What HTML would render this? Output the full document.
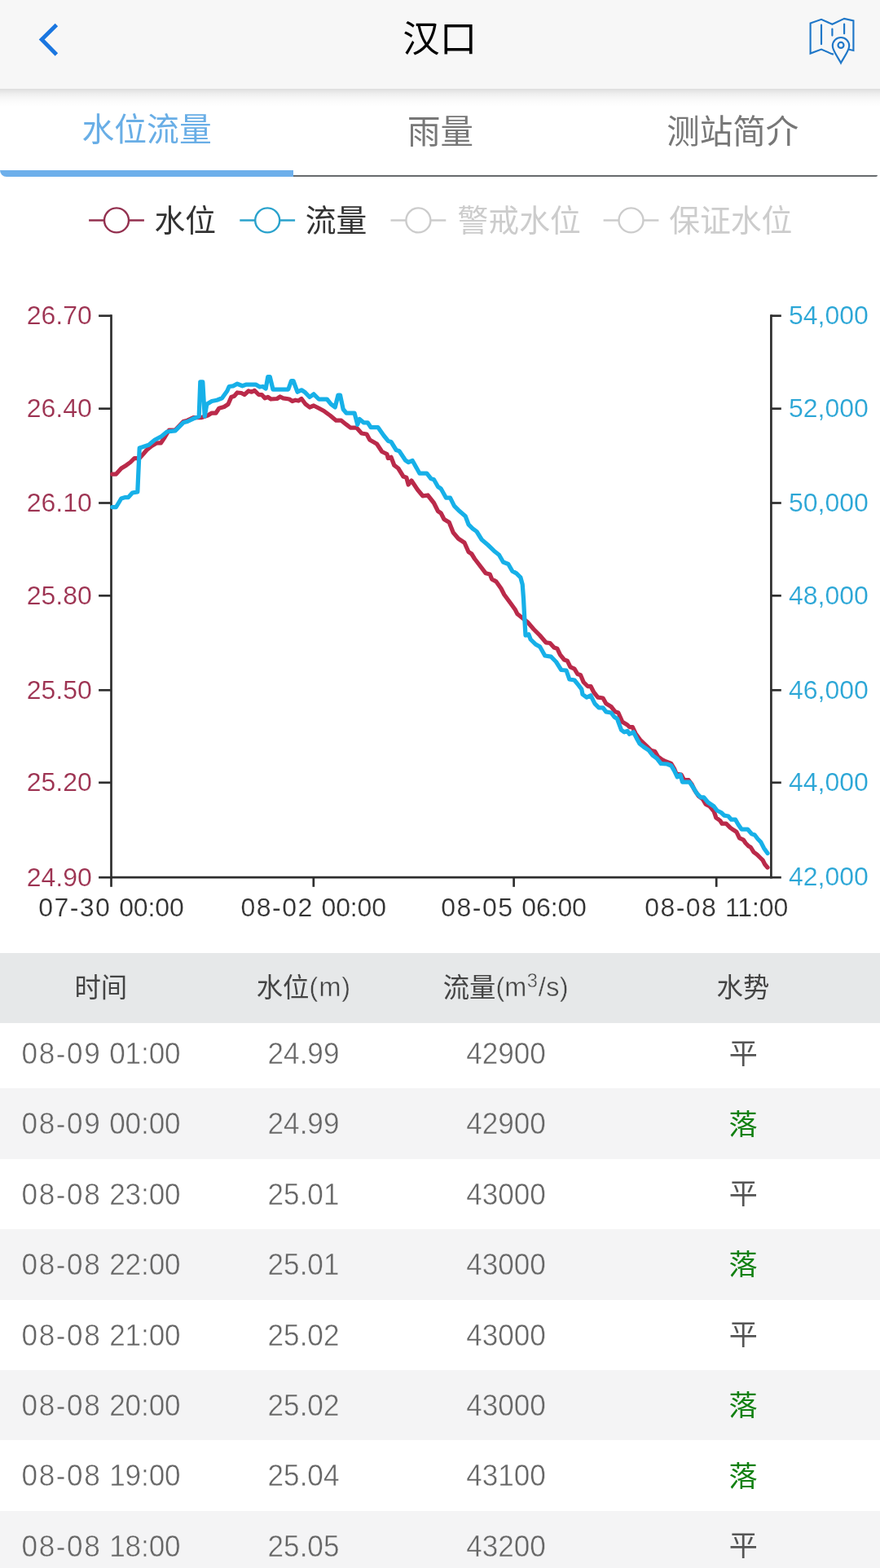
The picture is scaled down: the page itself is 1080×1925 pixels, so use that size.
<!DOCTYPE html>
<html lang="zh"><head><meta charset="utf-8"><title>汉口</title>
<style>
html,body{margin:0;padding:0}
body{width:1080px;height:1925px;position:relative;overflow:hidden;background:#fff;font-family:"Liberation Sans",sans-serif}
#hdr{position:absolute;left:0;top:0;width:1080px;height:108.8px;background:#f7f7f7}
#shd{position:absolute;left:0;top:108.8px;width:1080px;height:22px;background:linear-gradient(rgba(0,0,0,.135),rgba(0,0,0,.10) 12%,rgba(0,0,0,.065) 28%,rgba(0,0,0,.035) 48%,rgba(0,0,0,.014) 70%,rgba(0,0,0,0))}
#tabbar{position:absolute;left:0;top:209.1px;width:360px;height:7.7px;background:#6dafeb;border-radius:0 0 0 8px}
#tabline{position:absolute;left:360px;top:215.05px;width:717px;height:1.75px;background:#666a6d;border-radius:0 0 2px 0}
#thead{position:absolute;left:0;top:1169.6px;width:1080px;height:86.4px;background:#e6e8e9}
.row{position:absolute;left:0;width:1080px;height:86.4px;font-size:35.1px;line-height:86.4px;color:#666;white-space:nowrap}
.row span{position:absolute;top:0;height:86.4px;text-align:center;transform:scaleY(1.045)}
.c1{left:0;width:248px;word-spacing:.2px}
.c1 i{font-style:normal;letter-spacing:1.6px}.c1 b{font-weight:normal;letter-spacing:-.12px}
.c2{left:248px;width:249px}
.c3{left:497px;width:248px}
#ov{position:absolute;left:0;top:0;will-change:transform}
.row span{will-change:transform}
#ov .cjk{font-family:"Liberation Sans","Noto Sans CJK SC",sans-serif}
</style></head><body>
<div id="hdr"></div><div id="shd"></div>
<div id="tabbar"></div><div id="tabline"></div>
<div class="row" style="top:1250.0px;background:#fff;-webkit-text-stroke:.45px #fff"><span class="c1"><i>08-09</i> <b>01:00</b></span><span class="c2">24.99</span><span class="c3">42900</span></div>
<div class="row" style="top:1336.4px;background:#f4f4f5;-webkit-text-stroke:.45px #f4f4f5"><span class="c1"><i>08-09</i> <b>00:00</b></span><span class="c2">24.99</span><span class="c3">42900</span></div>
<div class="row" style="top:1422.8px;background:#fff;-webkit-text-stroke:.45px #fff"><span class="c1"><i>08-08</i> <b>23:00</b></span><span class="c2">25.01</span><span class="c3">43000</span></div>
<div class="row" style="top:1509.2px;background:#f4f4f5;-webkit-text-stroke:.45px #f4f4f5"><span class="c1"><i>08-08</i> <b>22:00</b></span><span class="c2">25.01</span><span class="c3">43000</span></div>
<div class="row" style="top:1595.6px;background:#fff;-webkit-text-stroke:.45px #fff"><span class="c1"><i>08-08</i> <b>21:00</b></span><span class="c2">25.02</span><span class="c3">43000</span></div>
<div class="row" style="top:1682.0px;background:#f4f4f5;-webkit-text-stroke:.45px #f4f4f5"><span class="c1"><i>08-08</i> <b>20:00</b></span><span class="c2">25.02</span><span class="c3">43000</span></div>
<div class="row" style="top:1768.4px;background:#fff;-webkit-text-stroke:.45px #fff"><span class="c1"><i>08-08</i> <b>19:00</b></span><span class="c2">25.04</span><span class="c3">43100</span></div>
<div class="row" style="top:1854.8px;background:#f4f4f5;-webkit-text-stroke:.45px #f4f4f5"><span class="c1"><i>08-08</i> <b>18:00</b></span><span class="c2">25.05</span><span class="c3">43200</span></div>
<div id="thead"></div>
<svg id="ov" width="1080" height="1925" viewBox="0 0 1080 1925">
<polyline points="69.4,30.6 51.2,48.6 69.4,66.9" fill="none" stroke="#1a76e0" stroke-width="4.9" stroke-linejoin="miter"/>
<text class="cjk" x="494.23" y="63.93" font-size="45.5" fill="#000">汉口</text>
<g fill="none" stroke="#1f77c8" stroke-width="2.15" stroke-linejoin="miter" stroke-linecap="butt"><path d="M1023,66.4 L1021.4,66.4 1008,60.6 994.6,65.6 994.6,28.6 1008,23.8 1021.4,29.8 1036.1,22.9 1047.4,25.4 1047.4,62 1042,60.8"/><path d="M1008,30.5V54.2M1021.4,35.5V43.6M1036.1,29.5V41.2" stroke-linecap="round"/><path d="M1032,77.3 C1028.2,70 1021.8,62 1021.8,56.2 a10.2,10.2 0 0 1 20.4,0 C1042.2,62 1035.8,70 1032,77.3Z" fill="#f7f7f7"/><circle cx="1032" cy="55.4" r="3.5"/></g>
<text class="cjk" x="100.52" y="173.24" font-size="39.8" fill="#69aee6">水位流量</text>
<text class="cjk" x="500.04" y="175.78" font-size="40.5" fill="#777">雨量</text>
<text class="cjk" x="818.20" y="176.49" font-size="40.5" fill="#777">测站简介</text>
<path d="M109.1,270.4H176.9" stroke="#93304f" stroke-width="2.5"/>
<circle cx="143.0" cy="270.4" r="15" fill="#fff" stroke="#93304f" stroke-width="2.4"/>
<text class="cjk" x="189.53" y="284.47" font-size="37.8" fill="#333">水位</text>
<path d="M294.3,270.4H362.1" stroke="#2aa2cc" stroke-width="2.5"/>
<circle cx="328.2" cy="270.4" r="15" fill="#fff" stroke="#2aa2cc" stroke-width="2.4"/>
<text class="cjk" x="374.79" y="284.42" font-size="37.8" fill="#333">流量</text>
<path d="M479.5,270.4H547.3" stroke="#cccccc" stroke-width="2.5"/>
<circle cx="513.4" cy="270.4" r="15" fill="#fff" stroke="#cccccc" stroke-width="2.4"/>
<text class="cjk" x="561.55" y="284.45" font-size="37.8" fill="#cccccc">警戒水位</text>
<path d="M740.6,270.4H808.4" stroke="#cccccc" stroke-width="2.5"/>
<circle cx="774.5" cy="270.4" r="15" fill="#fff" stroke="#cccccc" stroke-width="2.4"/>
<text class="cjk" x="821.13" y="284.47" font-size="37.8" fill="#cccccc">保证水位</text>
<g stroke="#2e2e2e" stroke-width="2.7" fill="none"><path d="M136.5,386.3V1078.5"/><path d="M946.4,386.3V1078.5"/><path d="M136.5,1077.2H946.4"/><path d="M121.1,387.7H136.5"/><path d="M946.4,387.7H958.8"/><path d="M121.1,501.7H136.5"/><path d="M946.4,501.7H958.8"/><path d="M121.1,617.5H136.5"/><path d="M946.4,617.5H958.8"/><path d="M121.1,731.3H136.5"/><path d="M946.4,731.3H958.8"/><path d="M121.1,847.3H136.5"/><path d="M946.4,847.3H958.8"/><path d="M121.1,960.8H136.5"/><path d="M946.4,960.8H958.8"/><path d="M121.1,1077.2H136.5"/><path d="M946.4,1077.2H958.8"/><path d="M136.5,1077.2V1088.8"/><path d="M384.8,1077.2V1088.8"/><path d="M630.6,1077.2V1088.8"/><path d="M879.2,1077.2V1088.8"/></g>
<path d="M137.8,582 142.5,582 148.8,575 155,571.2 160,567.5 165,562.5 171.2,562.5 176.2,557 180,552.5 186.2,547.5 192.5,543.8 197.5,543.8 202.5,536.2 207.5,528 215,528 225,517.5 230,516.2 237.5,512.5 247.5,512.5 255,510 260,507 265,507 268.8,501.2 275,499.5 280,496.2 283.8,487.5 287.5,486.2 291.2,482 296.2,482.5 300,484.5 305,480 308.8,481.2 312.5,479.5 317.5,484.5 321.2,484.5 325,488.8 328.8,487.5 332.5,490 340,489.5 343.8,487 347.5,488.8 355,490 358.8,492.5 362.5,491.2 366.2,492 370,489.5 375,496.2 380,500 385,498 390,500.5 397.5,504.5 405,510 412.5,516.2 418.8,516.2 425,521.2 430,525 437.5,525 443.8,532 450,533 453.8,540 462.5,545 468.8,554.5 475,557.5 476.2,562.5 480,561.2 483.8,571.2 488.8,575 495,585 498.8,586.2 501.2,595 505,590 512.5,601.2 518.8,608.8 525,608 532.5,617.5 537.5,627.5 541.2,630 545,637.5 551.2,641.2 556.2,653.8 562.5,661.2 570,666.2 575,677.5 578.8,680 582.5,686 587.5,692.5 596.2,703.8 601.2,705 603.8,711.2 608.8,713.8 615,722.5 618.8,730 626.2,740 632.5,748.8 635,753.8 641.2,758.8 647.5,763.8 655,772.5 662.5,780 670,788.8 675,789.5 680,795 683.8,796.2 687.5,803.8 692.5,810 696.2,811.2 700,818.8 705,821.2 708.8,827.5 712.5,828.8 716.2,837.5 721.2,842.5 725,842.5 728.8,850 733.8,856.2 740,857 743.8,863.8 750,867.5 755,873.8 758.8,875 763.8,886.2 770,890 772.5,892.5 776.2,892.5 780,900.5 786.2,909 793.8,916.2 798.8,921.2 803.8,922.5 807.5,928.8 812.5,932.5 817.5,935 823.8,937.5 827.5,943.8 830,950 836.2,951.2 838.8,956.2 845,957.5 848.8,962.5 852.5,970 857.5,977.5 862.5,981.2 866.2,987.5 871.2,990 876.2,996.2 878.8,1003.8 883.8,1007.5 886.2,1011.2 891.2,1011.2 896.2,1016.2 900,1018.8 903.8,1021.2 907.5,1028.8 912.5,1031.2 915,1035 918.8,1038.8 921.2,1040 925,1046.2 928.8,1048.8 932.5,1052.5 936.2,1056.2 938.8,1061.2 942,1065" fill="none" stroke="#ba2a4a" stroke-width="5.25" stroke-linejoin="round" stroke-linecap="round"/>
<path d="M137.8,622.5 142.5,622.5 148.8,612 153.8,610.5 157.5,610.5 162.5,605 168.8,603.8 171.2,550 175,548.8 182.5,546.2 190,540 197.5,536.2 205,530 215,528.8 225,518.8 230,517.5 237.5,513.8 244.2,511.2 245.8,468.8 248.8,468.8 251.2,511.2 253.8,496.2 260,492.5 266.2,491.2 272.5,488.8 278.8,480 281.2,474.5 286.2,473.8 291.2,471.2 297.5,473.8 302.5,472 313.8,472 318.8,475 322.5,474.5 326.2,477 328.8,462.5 331.2,462.5 335,478 353.8,478 357.5,467.5 360,467.5 365,481.2 370,478.8 373.8,481.2 380,487.5 385,483.8 391.2,490 401.2,490 406.2,496.2 411.2,500 415,485 417.5,485 421.2,502.5 425,507 435,507 438.8,521.2 441.2,514.5 446.2,518.8 451.2,518.8 455,524.5 463.8,524.5 471.2,535 476.2,541.2 480,542.5 486.2,552.5 490,553.8 497.5,565 501.2,567.5 506.2,565.5 515,581.2 523.8,581.2 528.8,587.5 532.5,588.8 537.5,597.5 541.2,600 547.5,611.2 552.5,611.2 557.5,621.2 562.5,626.2 571.2,633.8 575,643.8 580,648.8 585,652.5 591.2,662.5 598.8,669 606.2,676.2 612.5,681.2 617.5,690 623.8,692.5 628.8,701.2 633.8,703.8 638.8,708.8 641.2,717.5 642.5,735 643.8,760 645,780 648.8,778.8 651.2,785 657.5,791.2 662.5,793.8 668.8,805 676.2,806.2 682.5,812.5 688.8,822.5 695,823 698.8,833.8 705,835 710,841.2 713.8,846.2 715,852.5 720,856.2 725,853.8 730,863.8 735,868.8 740,868.8 743.8,873.8 750,875 753.8,880 757.5,882.5 762.5,896.2 766.2,898.8 770,897.5 772.5,901.2 777.5,898.8 781.2,906.2 785,913 790,917 796.2,921.2 801.2,927.5 806.2,931.2 811.2,937.5 818.8,938 823.8,940 827.5,946.2 831.2,953.8 835,951.2 837.5,960 846.2,960 851.2,967.5 855,973.8 860,978.8 863.8,978.8 868.8,985 876.2,990 880,995 885,997.5 888.8,1001.2 893.8,1002 897.5,1006.2 902.5,1006.2 906.2,1012.5 910,1018 917.5,1018 922.5,1023.8 926.2,1025 930,1030 933.8,1033.8 937.5,1041.2 942,1047.5" fill="none" stroke="#17b0e8" stroke-width="5.25" stroke-linejoin="round" stroke-linecap="round"/>
<text x="112.8" y="398.0" text-anchor="end" font-size="32.0" fill="#9d3352" font-family="Liberation Sans, sans-serif" stroke="#fff" stroke-width=".18">26.70</text>
<text x="112.8" y="512.0" text-anchor="end" font-size="32.0" fill="#9d3352" font-family="Liberation Sans, sans-serif" stroke="#fff" stroke-width=".18">26.40</text>
<text x="112.8" y="627.8" text-anchor="end" font-size="32.0" fill="#9d3352" font-family="Liberation Sans, sans-serif" stroke="#fff" stroke-width=".18">26.10</text>
<text x="112.8" y="741.6" text-anchor="end" font-size="32.0" fill="#9d3352" font-family="Liberation Sans, sans-serif" stroke="#fff" stroke-width=".18">25.80</text>
<text x="112.8" y="857.6" text-anchor="end" font-size="32.0" fill="#9d3352" font-family="Liberation Sans, sans-serif" stroke="#fff" stroke-width=".18">25.50</text>
<text x="112.8" y="971.1" text-anchor="end" font-size="32.0" fill="#9d3352" font-family="Liberation Sans, sans-serif" stroke="#fff" stroke-width=".18">25.20</text>
<text x="112.8" y="1087.5" text-anchor="end" font-size="32.0" fill="#9d3352" font-family="Liberation Sans, sans-serif" stroke="#fff" stroke-width=".18">24.90</text>
<text x="968" y="397.9" font-size="32.0" fill="#2ba6d6" font-family="Liberation Sans, sans-serif" stroke="#fff" stroke-width=".18">54,000</text>
<text x="968" y="511.9" font-size="32.0" fill="#2ba6d6" font-family="Liberation Sans, sans-serif" stroke="#fff" stroke-width=".18">52,000</text>
<text x="968" y="627.7" font-size="32.0" fill="#2ba6d6" font-family="Liberation Sans, sans-serif" stroke="#fff" stroke-width=".18">50,000</text>
<text x="968" y="741.5" font-size="32.0" fill="#2ba6d6" font-family="Liberation Sans, sans-serif" stroke="#fff" stroke-width=".18">48,000</text>
<text x="968" y="857.5" font-size="32.0" fill="#2ba6d6" font-family="Liberation Sans, sans-serif" stroke="#fff" stroke-width=".18">46,000</text>
<text x="968" y="971.0" font-size="32.0" fill="#2ba6d6" font-family="Liberation Sans, sans-serif" stroke="#fff" stroke-width=".18">44,000</text>
<text x="968" y="1087.4" font-size="32.0" fill="#2ba6d6" font-family="Liberation Sans, sans-serif" stroke="#fff" stroke-width=".18">42,000</text>
<text x="136.5" y="1124.7" text-anchor="middle" font-size="32.0" fill="#333" word-spacing="0.9" font-family="Liberation Sans, sans-serif" stroke="#fff" stroke-width=".18"><tspan letter-spacing="1.45">07-30</tspan> <tspan letter-spacing="-0.1">00:00</tspan></text>
<text x="384.8" y="1124.7" text-anchor="middle" font-size="32.0" fill="#333" word-spacing="0.9" font-family="Liberation Sans, sans-serif" stroke="#fff" stroke-width=".18"><tspan letter-spacing="1.45">08-02</tspan> <tspan letter-spacing="-0.1">00:00</tspan></text>
<text x="630.6" y="1124.7" text-anchor="middle" font-size="32.0" fill="#333" word-spacing="0.9" font-family="Liberation Sans, sans-serif" stroke="#fff" stroke-width=".18"><tspan letter-spacing="1.45">08-05</tspan> <tspan letter-spacing="-0.1">06:00</tspan></text>
<text x="879.2" y="1124.7" text-anchor="middle" font-size="32.0" fill="#333" word-spacing="0.9" font-family="Liberation Sans, sans-serif" stroke="#fff" stroke-width=".18"><tspan letter-spacing="1.45">08-08</tspan> <tspan letter-spacing="-0.1">11:00</tspan></text>
<text class="cjk" x="894.73" y="1305.58" font-size="35.1" fill="#555">平</text>
<text class="cjk" x="894.49" y="1392.64" font-size="35.1" fill="#128112">落</text>
<text class="cjk" x="894.73" y="1478.38" font-size="35.1" fill="#555">平</text>
<text class="cjk" x="894.49" y="1565.44" font-size="35.1" fill="#128112">落</text>
<text class="cjk" x="894.73" y="1651.18" font-size="35.1" fill="#555">平</text>
<text class="cjk" x="894.49" y="1738.24" font-size="35.1" fill="#128112">落</text>
<text class="cjk" x="894.49" y="1824.64" font-size="35.1" fill="#128112">落</text>
<text class="cjk" x="894.73" y="1910.38" font-size="35.1" fill="#555">平</text>
<text class="cjk" x="91.45" y="1223.73" font-size="32.4" fill="#444">时间</text>
<text class="cjk" x="314.74" y="1223.91" font-size="32.4" fill="#444">水位</text>
<text x="379.6" y="1223" font-size="32.4" fill="#444" letter-spacing="1" font-family="Liberation Sans, sans-serif" stroke="#e6e8e9" stroke-width=".4">(m)</text>
<text class="cjk" x="543.70" y="1223.86" font-size="32.4" fill="#444">流量</text>
<text x="608.5" y="1223" font-size="32.4" fill="#444" font-family="Liberation Sans, sans-serif" stroke="#e6e8e9" stroke-width=".4">(m<tspan dy="-11.5" dx="0.5" font-size="23.5">3</tspan><tspan dy="11.5" dx="0.8" letter-spacing="0.5">/s)</tspan></text>
<text class="cjk" x="879.58" y="1223.79" font-size="32.4" fill="#444">水势</text>
</svg>
</body></html>
